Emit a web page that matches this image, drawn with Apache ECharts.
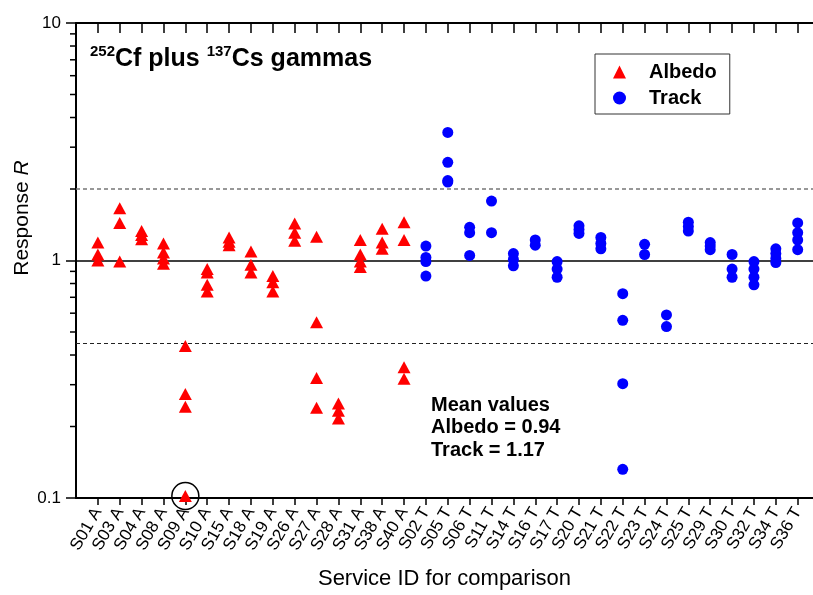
<!DOCTYPE html>
<html>
<head>
<meta charset="utf-8">
<script src="https://cdn.jsdelivr.net/npm/echarts@6/dist/echarts.min.js"></script>
<style>
html,body{margin:0;padding:0;background:#fff;}
#chart{width:813px;height:595px;}
</style>
</head>
<body>
<div id="chart"></div>
<script>
// ---- Data ----
const albedoCats = ['S01 A','S03 A','S04 A','S08 A','S09 A','S10 A','S15 A','S18 A','S19 A','S26 A','S27 A','S28 A','S31 A','S38 A','S40 A'];
const trackCats = ['S02 T','S05 T','S06 T','S11 T','S14 T','S16 T','S17 T','S20 T','S21 T','S22 T','S23 T','S24 T','S25 T','S29 T','S30 T','S32 T','S34 T','S36 T'];
const categories = albedoCats.concat(trackCats);

const albedoValues = [
  [1.19, 1.06, 1.0],
  [1.66, 1.44, 0.99],
  [1.33, 1.28, 1.23],
  [1.18, 1.08, 1.02, 0.97],
  [0.437, 0.274, 0.242, 0.102],
  [0.92, 0.89, 0.79, 0.74],
  [1.25, 1.2, 1.16],
  [1.09, 0.96, 0.89],
  [0.86, 0.81, 0.74],
  [1.43, 1.31, 1.21],
  [1.26, 0.55, 0.32, 0.24],
  [0.25, 0.233, 0.216],
  [1.22, 1.06, 0.99, 0.94],
  [1.36, 1.19, 1.12],
  [1.45, 1.22, 0.355, 0.318]
];
const trackValues = [
  [1.15, 1.03, 0.99, 0.86],
  [3.46, 2.59, 2.17, 2.14],
  [1.38, 1.31, 1.05],
  [1.78, 1.31],
  [1.07, 1.01, 0.95],
  [1.22, 1.16],
  [0.99, 0.92, 0.85],
  [1.40, 1.35, 1.30],
  [1.25, 1.18, 1.12],
  [0.725, 0.56, 0.303, 0.132],
  [1.17, 1.06],
  [0.59, 0.527],
  [1.45, 1.39, 1.33],
  [1.19, 1.15, 1.11],
  [1.06, 0.92, 0.85],
  [0.99, 0.92, 0.85, 0.79],
  [1.12, 1.07, 1.02, 0.98],
  [1.44, 1.31, 1.22, 1.11]
];
const referenceLines = { unity: 1, upper: 2, lower: 0.45 };
const meanAlbedo = 0.94;
const meanTrack = 1.17;
const minorTickValues = [0.2,0.3,0.4,0.5,0.6,0.7,0.8,0.9,2,3,4,5,6,7,8,9];
const circledPoint = { cat: 'S09 A', value: 0.102 };

// ---- Build ----
const FONT = '"Liberation Sans", Arial, sans-serif';
const albedoData = [];
albedoCats.forEach((c, i) => albedoValues[i].forEach(v => albedoData.push([categories.indexOf(c) + 1, v])));
const trackData = [];
trackCats.forEach((c, i) => trackValues[i].forEach(v => trackData.push([categories.indexOf(c) + 1, v])));
const catPositions = categories.map((c, i) => i + 1);

const chart = echarts.init(document.getElementById('chart'), null, { renderer: 'canvas' });
const xCommon = { type: 'value', min: 0, max: 33.7, interval: 1, gridIndex: 0 };

chart.setOption({
  animation: false,
  backgroundColor: '#fff',
  grid: { left: 76, right: 0, top: 23, bottom: 95, containLabel: false },
  xAxis: [
    Object.assign({}, xCommon, {
      position: 'bottom',
      name: 'Service ID for comparison',
      nameLocation: 'middle',
      nameGap: 70,
      nameTextStyle: { fontFamily: FONT, fontSize: 22, color: '#000' },
      axisLine: { lineStyle: { color: '#000', width: 2 } },
      axisTick: { inside: false, length: 7, customValues: catPositions, lineStyle: { color: '#000', width: 1.5 } },
      splitLine: { show: false },
      axisLabel: {
        rotate: 60, fontFamily: FONT, fontSize: 17, color: '#000', margin: 11,
        customValues: catPositions,
        formatter: v => categories[Math.round(v) - 1] || ''
      }
    }),
    Object.assign({}, xCommon, {
      position: 'top',
      axisLine: { lineStyle: { color: '#000', width: 2 } },
      axisTick: { inside: true, length: 10, customValues: catPositions, lineStyle: { color: '#000', width: 1.5 } },
      axisLabel: { show: false },
      splitLine: { show: false }
    })
  ],
  yAxis: {
    type: 'log', logBase: 10, min: 0.1, max: 10,
    axisLine: { show: true, lineStyle: { color: '#000', width: 2 } },
    axisTick: { show: true, inside: false, length: 10, lineStyle: { color: '#000', width: 1.5 } },
    splitLine: { show: false },
    axisLabel: { fontFamily: FONT, fontSize: 17, color: '#000', margin: 15,
      formatter: v => String(Math.round(v * 10) / 10) }
  },
  legend: {
    orient: 'vertical', left: 595, top: 54,
    padding: [8, 13, 6, 18], itemGap: 6,
    itemWidth: 13, itemHeight: 13,
    borderColor: '#333', borderWidth: 1,
    data: ['Albedo', 'Track'],
    textStyle: { fontFamily: FONT, fontSize: 20, fontWeight: 'bold', color: '#000', lineHeight: 20, padding: [0, 0, 0, 18] }
  },
  series: [
    {
      name: 'Albedo', type: 'scatter', symbol: 'triangle', symbolSize: [13, 12],
      itemStyle: { color: '#ff0000', opacity: 1 },
      data: albedoData, z: 5,
      markLine: {
        silent: true, symbol: 'none', label: { show: false }, animation: false,
        data: [
          { yAxis: referenceLines.unity, lineStyle: { color: '#000', width: 1.5, type: 'solid' } },
          { yAxis: referenceLines.upper, lineStyle: { color: '#777', width: 1.5, type: [4, 3] } },
          { yAxis: referenceLines.lower, lineStyle: { color: '#222', width: 1.2, type: [4, 3] } }
        ]
      },
      markPoint: {
        silent: true, label: { show: false },
        data: [{
          coord: [categories.indexOf(circledPoint.cat) + 1, circledPoint.value],
          symbol: 'circle', symbolSize: 27,
          itemStyle: { color: 'rgba(0,0,0,0)', borderColor: '#000', borderWidth: 1.5 }
        }]
      }
    },
    {
      name: 'Track', type: 'scatter', symbol: 'circle', symbolSize: 11,
      itemStyle: { color: '#0000ff', opacity: 1 },
      data: trackData, z: 5
    },
    {
      name: 'minorTicks', type: 'custom', silent: true, clip: false,
      data: minorTickValues.map(v => [0, v]),
      renderItem: (params, api) => {
        const p = api.coord([0, api.value(1)]);
        return { type: 'line', shape: { x1: p[0] - 6, y1: p[1], x2: p[0], y2: p[1] },
                 style: { stroke: '#000', lineWidth: 1.5 } };
      }
    }
  ],
  graphic: [
    {
      type: 'text', left: 90, top: 44,
      style: {
        text: '{s|252}{m|Cf plus }{s|137}{m|Cs gammas}',
        rich: {
          m: { fontFamily: FONT, fontSize: 25, fontWeight: 'bold', fill: '#000', lineHeight: 30 },
          s: { fontFamily: FONT, fontSize: 15, fontWeight: 'bold', fill: '#000', lineHeight: 27, verticalAlign: 'top' }
        }
      }
    },
    {
      type: 'text', x: 22, y: 218, rotation: Math.PI / 2,
      style: {
        text: '{a|Response }{b|R}', align: 'center', verticalAlign: 'middle',
        rich: {
          a: { fontFamily: FONT, fontSize: 21, fill: '#000' },
          b: { fontFamily: FONT, fontSize: 21, fontStyle: 'italic', fill: '#000' }
        }
      }
    },
    {
      type: 'text', left: 431, top: 394,
      style: {
        text: 'Mean values\nAlbedo = ' + meanAlbedo.toFixed(2) + '\nTrack = ' + meanTrack.toFixed(2),
        fontFamily: FONT, fontSize: 20, fontWeight: 'bold', fill: '#000', lineHeight: 22.5
      }
    }
  ]
});
</script>
</body>
</html>
